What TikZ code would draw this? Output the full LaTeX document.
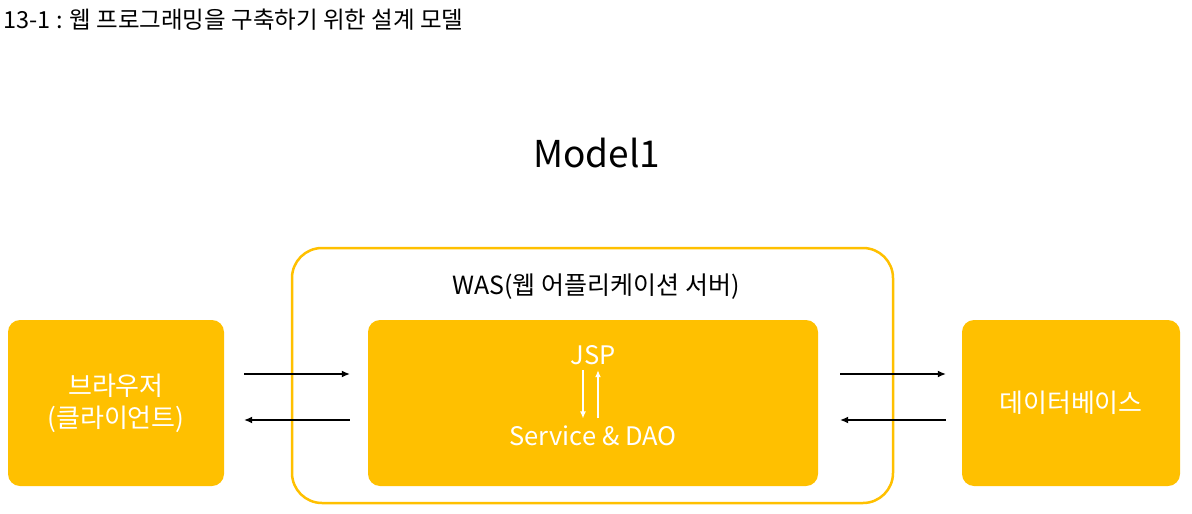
\documentclass[tikz,border=0pt]{standalone}
\usepackage{fontspec}
\setmainfont{Noto Sans CJK KR}
\usetikzlibrary{positioning,calc,arrows.meta}

\definecolor{gold}{HTML}{FFC000}

\tikzset{
  solidbox/.style={fill=gold, rounded corners=12pt, text=white, align=center,
    minimum height=166pt, inner sep=0pt},
  flow/.style={line width=1.2pt, -{Latex[length=8pt,width=7pt]}},
  innerflow/.style={white, line width=1.2pt, -{Latex[length=7pt,width=6pt]}}
}

\begin{document}
\begin{tikzpicture}[x=1pt, y=-1pt, font=\fontsize{25.5}{30}\selectfont]
  \useasboundingbox (0,0) rectangle (1192,514);

  % Titles
  \node[anchor=west, font=\fontsize{23.5}{27}\selectfont] (caption) at (0,20) {13-1 : 웹 프로그래밍을 구축하기 위한 설계 모델};
  \node[font=\fontsize{37}{44}\selectfont] (modeltitle) at (597,153) {Model1};

  % WAS frame
  \node[draw=gold, line width=2.5pt, rounded corners=30pt, minimum width=601pt, minimum height=255pt] (was) at (592.5,375.5) {};
  \node[font=\fontsize{25}{29}\selectfont] (waslabel) at (596,287) {WAS(웹 어플리케이션 서버)};

  % Boxes
  \node[solidbox, font=\fontsize{26}{32}\selectfont, minimum width=216pt] (client) at (116,403) {브라우저\\(클라이언트)};
  \node[solidbox, minimum width=450pt] (app) at (593,403) {};
  \node[solidbox, font=\fontsize{26}{32}\selectfont, minimum width=218pt] (db) at (1071,403) {데이터베이스};

  % Inside the application box
  \node[text=white] (jsp) at (593,355) {JSP};
  \node[text=white] (dao) at (593,436) {Service \& DAO};
  \draw[innerflow, shorten <=2pt, shorten >=4pt] ([xshift=-10pt]jsp.south) -- ([xshift=-10pt]dao.north);
  \draw[innerflow, shorten <=4pt, shorten >=2pt] ([xshift=5pt]dao.north) -- ([xshift=5pt]jsp.south);

  % Requests and responses
  \draw[flow, shorten <=20pt, shorten >=18pt] ([yshift=29pt]client.east) -- ([yshift=29pt]app.west);
  \draw[flow, shorten <=18pt, shorten >=20pt] ([yshift=-17pt]app.west) -- ([yshift=-17pt]client.east);
  \draw[flow, shorten <=22pt, shorten >=16pt] ([yshift=29pt]app.east) -- ([yshift=29pt]db.west);
  \draw[flow, shorten <=16pt, shorten >=22pt] ([yshift=-17pt]db.west) -- ([yshift=-17pt]app.east);
\end{tikzpicture}
\end{document}
